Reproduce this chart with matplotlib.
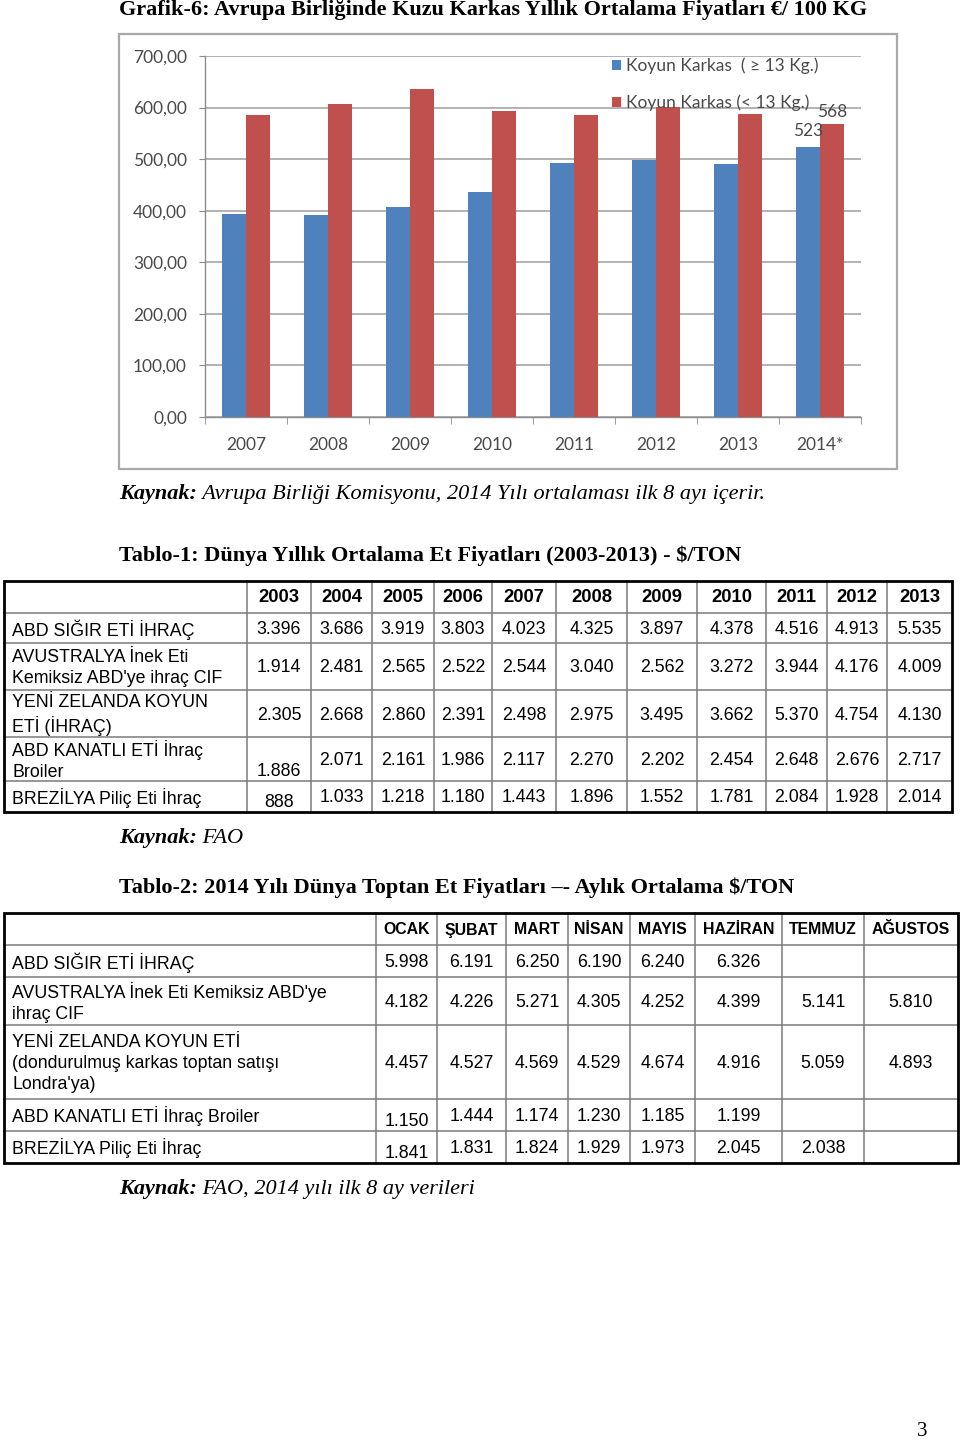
import matplotlib.pyplot as plt
import numpy as np
from matplotlib.patches import Rectangle
from matplotlib.ticker import FuncFormatter

W, H = 960, 1442

# Grafik-6 data (EUR / 100 kg)
years = ["2007", "2008", "2009", "2010", "2011", "2012", "2013", "2014*"]
heavy = [394, 391, 408, 437, 492, 499, 490, 523]   # Koyun Karkas (>= 13 Kg.)
light = [585, 606, 636, 593, 585, 601, 587, 568]   # Koyun Karkas (< 13 Kg.)
heavy_name = "Koyun Karkas  ( \u2265 13 Kg.)"
light_name = "Koyun Karkas (< 13 Kg.)"

# Tablo-1
t1_years = ["2003", "2004", "2005", "2006", "2007", "2008", "2009",
            "2010", "2011", "2012", "2013"]
t1_rows = [
    "ABD SIĞIR ETİ İHRAÇ",
    "AVUSTRALYA İnek Eti\nKemiksiz ABD'ye ihraç CIF",
    "YENİ ZELANDA KOYUN\nETİ (İHRAÇ)",
    "ABD KANATLI ETİ İhraç\nBroiler",
    "BREZİLYA Piliç Eti İhraç",
]
t1_abd_sigir = ["3.396", "3.686", "3.919", "3.803", "4.023", "4.325", "3.897",
                "4.378", "4.516", "4.913", "5.535"]
t1_avustralya = ["1.914", "2.481", "2.565", "2.522", "2.544", "3.040", "2.562",
                 "3.272", "3.944", "4.176", "4.009"]
t1_yeni_zelanda = ["2.305", "2.668", "2.860", "2.391", "2.498", "2.975", "3.495",
                   "3.662", "5.370", "4.754", "4.130"]
t1_abd_kanatli = ["1.886", "2.071", "2.161", "1.986", "2.117", "2.270", "2.202",
                  "2.454", "2.648", "2.676", "2.717"]
t1_brezilya = ["888", "1.033", "1.218", "1.180", "1.443", "1.896", "1.552",
               "1.781", "2.084", "1.928", "2.014"]

# Tablo-2
t2_months = ["OCAK", "ŞUBAT", "MART", "NİSAN", "MAYIS", "HAZİRAN", "TEMMUZ", "AĞUSTOS"]
t2_rows = [
    "ABD SIĞIR ETİ İHRAÇ",
    "AVUSTRALYA İnek Eti Kemiksiz ABD'ye\nihraç CIF",
    "YENİ ZELANDA KOYUN ETİ\n(dondurulmuş karkas toptan satışı\nLondra'ya)",
    "ABD KANATLI ETİ İhraç Broiler",
    "BREZİLYA Piliç Eti İhraç",
]
t2_abd_sigir = ["5.998", "6.191", "6.250", "6.190", "6.240", "6.326", "", ""]
t2_avustralya = ["4.182", "4.226", "5.271", "4.305", "4.252", "4.399", "5.141", "5.810"]
t2_yeni_zelanda = ["4.457", "4.527", "4.569", "4.529", "4.674", "4.916", "5.059", "4.893"]
t2_abd_kanatli = ["1.150", "1.444", "1.174", "1.230", "1.185", "1.199", "", ""]
t2_brezilya = ["1.841", "1.831", "1.824", "1.929", "1.973", "2.045", "2.038", ""]

SERIF = "Liberation Serif"
SANS = "Liberation Sans"
CHART_FONT = ["Lato", "DejaVu Sans"]
BLUE, RED = "#4F81BD", "#C0504D"
TXT_GRAY = "#4a4a4a"

fig = plt.figure(figsize=(W / 100, H / 100), dpi=100)
fig.patch.set_facecolor("white")

# full-page axes in pixel coordinates for text and tables
page = fig.add_axes([0, 0, 1, 1], zorder=0)
page.set_xlim(0, W)
page.set_ylim(H, 0)
page.axis("off")


def heading(x, y, text, **kw):
    page.text(x, y, text, fontfamily=SERIF, fontsize=16, va="center", ha="left", **kw)


def source(x, y, rest):
    t = page.text(x, y, "Kaynak:", fontfamily=SERIF, fontsize=16,
                  fontweight="bold", fontstyle="italic", va="center", ha="left")
    page.annotate(" " + rest, xy=(1, 0), xycoords=t, va="bottom", ha="left",
                  fontfamily=SERIF, fontsize=16, fontstyle="italic")


heading(119, 10, "Grafik-6: Avrupa Birliğinde Kuzu Karkas Yıllık Ortalama Fiyatları €/ 100 KG",
        fontweight="bold")
source(119, 494, "Avrupa Birliği Komisyonu, 2014 Yılı ortalaması ilk 8 ayı içerir.")
heading(119, 556, "Tablo-1: Dünya Yıllık Ortalama Et Fiyatları (2003-2013) - $/TON",
        fontweight="bold")
source(119, 838, "FAO")
heading(119, 888, "Tablo-2: 2014 Yılı Dünya Toptan Et Fiyatları –- Aylık Ortalama $/TON",
        fontweight="bold")
source(119, 1189, "FAO, 2014 yılı ilk 8 ay verileri")
page.text(922, 1431, "3", fontfamily=SERIF, fontsize=15, ha="center", va="center")

# chart frame
page.add_patch(Rectangle((119, 34), 778, 435, fill=False, ec="#a9a9a9", lw=1.6))

# ---- bar chart ----
ax = fig.add_axes([205 / W, 1 - 417 / H, 656 / W, 361 / H], zorder=1)
x = np.arange(len(years))
bw = 0.29
b1 = ax.bar(x - bw / 2, heavy, bw, color=BLUE, label=heavy_name, zorder=3)
b2 = ax.bar(x + bw / 2, light, bw, color=RED, label=light_name, zorder=3)
ax.set_xlim(-0.5, len(years) - 0.5)
ax.set_ylim(0, 700)
ax.set_yticks(range(0, 701, 100))
ax.yaxis.set_major_formatter(FuncFormatter(lambda v, _: f"{int(v)},00"))
ax.set_xticks(x, years)
ax.set_xticks(np.arange(-0.5, len(years), 1), minor=True)
ax.tick_params(axis="x", which="major", length=0, pad=14.5)
ax.tick_params(axis="x", which="minor", length=5, color="#8c8c8c", direction="out")
ax.tick_params(axis="y", length=4, color="#8c8c8c", pad=9)
for lab in ax.get_xticklabels() + ax.get_yticklabels():
    lab.set_fontfamily(CHART_FONT)
    lab.set_fontsize(12.5)
    lab.set_color(TXT_GRAY)
ax.yaxis.grid(True, color="#a6a6a6", lw=1.2, zorder=0)
ax.set_axisbelow(True)
for s in ("top", "right"):
    ax.spines[s].set_visible(False)
for s in ("left", "bottom"):
    ax.spines[s].set_color("#8c8c8c")
    ax.spines[s].set_linewidth(1.0)

ax.bar_label(b1, labels=[""] * (len(years) - 1) + [str(heavy[-1])], padding=6,
             fontsize=12.5, color=TXT_GRAY, fontfamily=CHART_FONT)
ax.bar_label(b2, labels=[""] * (len(years) - 1) + [str(light[-1])], padding=3,
             fontsize=12.5, color=TXT_GRAY, fontfamily=CHART_FONT)

leg = ax.legend(loc="upper left", bbox_to_anchor=(0.62, 0.995), frameon=False,
                borderpad=0, borderaxespad=0, labelspacing=1.17,
                handlelength=0.55, handleheight=0.55, handletextpad=0.25,
                prop={"family": CHART_FONT, "size": 12.5})
for t in leg.get_texts():
    t.set_color(TXT_GRAY)


# ---- tables ----
def draw_table(cols, rows, header, labels, values, bottom_cells, head_size):
    x0, x1 = cols[0], cols[-1]
    y0, y1 = rows[0], rows[-1]
    for xc in cols[1:-1]:
        page.plot([xc, xc], [y0, y1], color="#7a7a7a", lw=1.1, zorder=2)
    for yc in rows[1:-1]:
        page.plot([x0, x1], [yc, yc], color="#7a7a7a", lw=1.1, zorder=2)
    page.add_patch(Rectangle((x0, y0), x1 - x0, y1 - y0, fill=False,
                             ec="black", lw=2.0, zorder=3))
    for j, h in enumerate(header):
        page.text((cols[j + 1] + cols[j + 2]) / 2, (rows[0] + rows[1]) / 2 + 1, h,
                  fontfamily=SANS, fontweight="bold", fontsize=head_size,
                  ha="center", va="center")
    for i, lab in enumerate(labels):
        ym = (rows[i + 1] + rows[i + 2]) / 2
        page.text(x0 + 8, ym + 1.5, lab, fontfamily=SANS, fontsize=12.8,
                  ha="left", va="center", linespacing=1.33)
        for j, v in enumerate(values[i]):
            xm = (cols[j + 1] + cols[j + 2]) / 2
            if (i, j) in bottom_cells:
                page.text(xm, rows[i + 2] - 5, v, fontfamily=SANS, fontsize=12.8,
                          ha="center", va="baseline")
            else:
                page.text(xm, ym + 1.5, v, fontfamily=SANS, fontsize=12.8,
                          ha="center", va="center")


t1_cols = [4, 247, 311, 372, 434, 492, 556, 627, 697, 766, 827, 887, 952]
t1_lines = [581, 613, 643, 690, 737, 781, 812]
draw_table(t1_cols, t1_lines, t1_years, t1_rows,
           [t1_abd_sigir, t1_avustralya, t1_yeni_zelanda, t1_abd_kanatli, t1_brezilya],
           {(3, 0), (4, 0)}, 13.3)

t2_cols = [4, 376, 437, 506, 568, 630, 695, 782, 864, 958]
t2_lines = [913, 945, 977, 1025, 1099, 1131, 1163]
draw_table(t2_cols, t2_lines, t2_months, t2_rows,
           [t2_abd_sigir, t2_avustralya, t2_yeni_zelanda, t2_abd_kanatli, t2_brezilya],
           {(3, 0), (4, 0)}, 11.4)

fig.savefig("out.png", dpi=100, facecolor="white")
